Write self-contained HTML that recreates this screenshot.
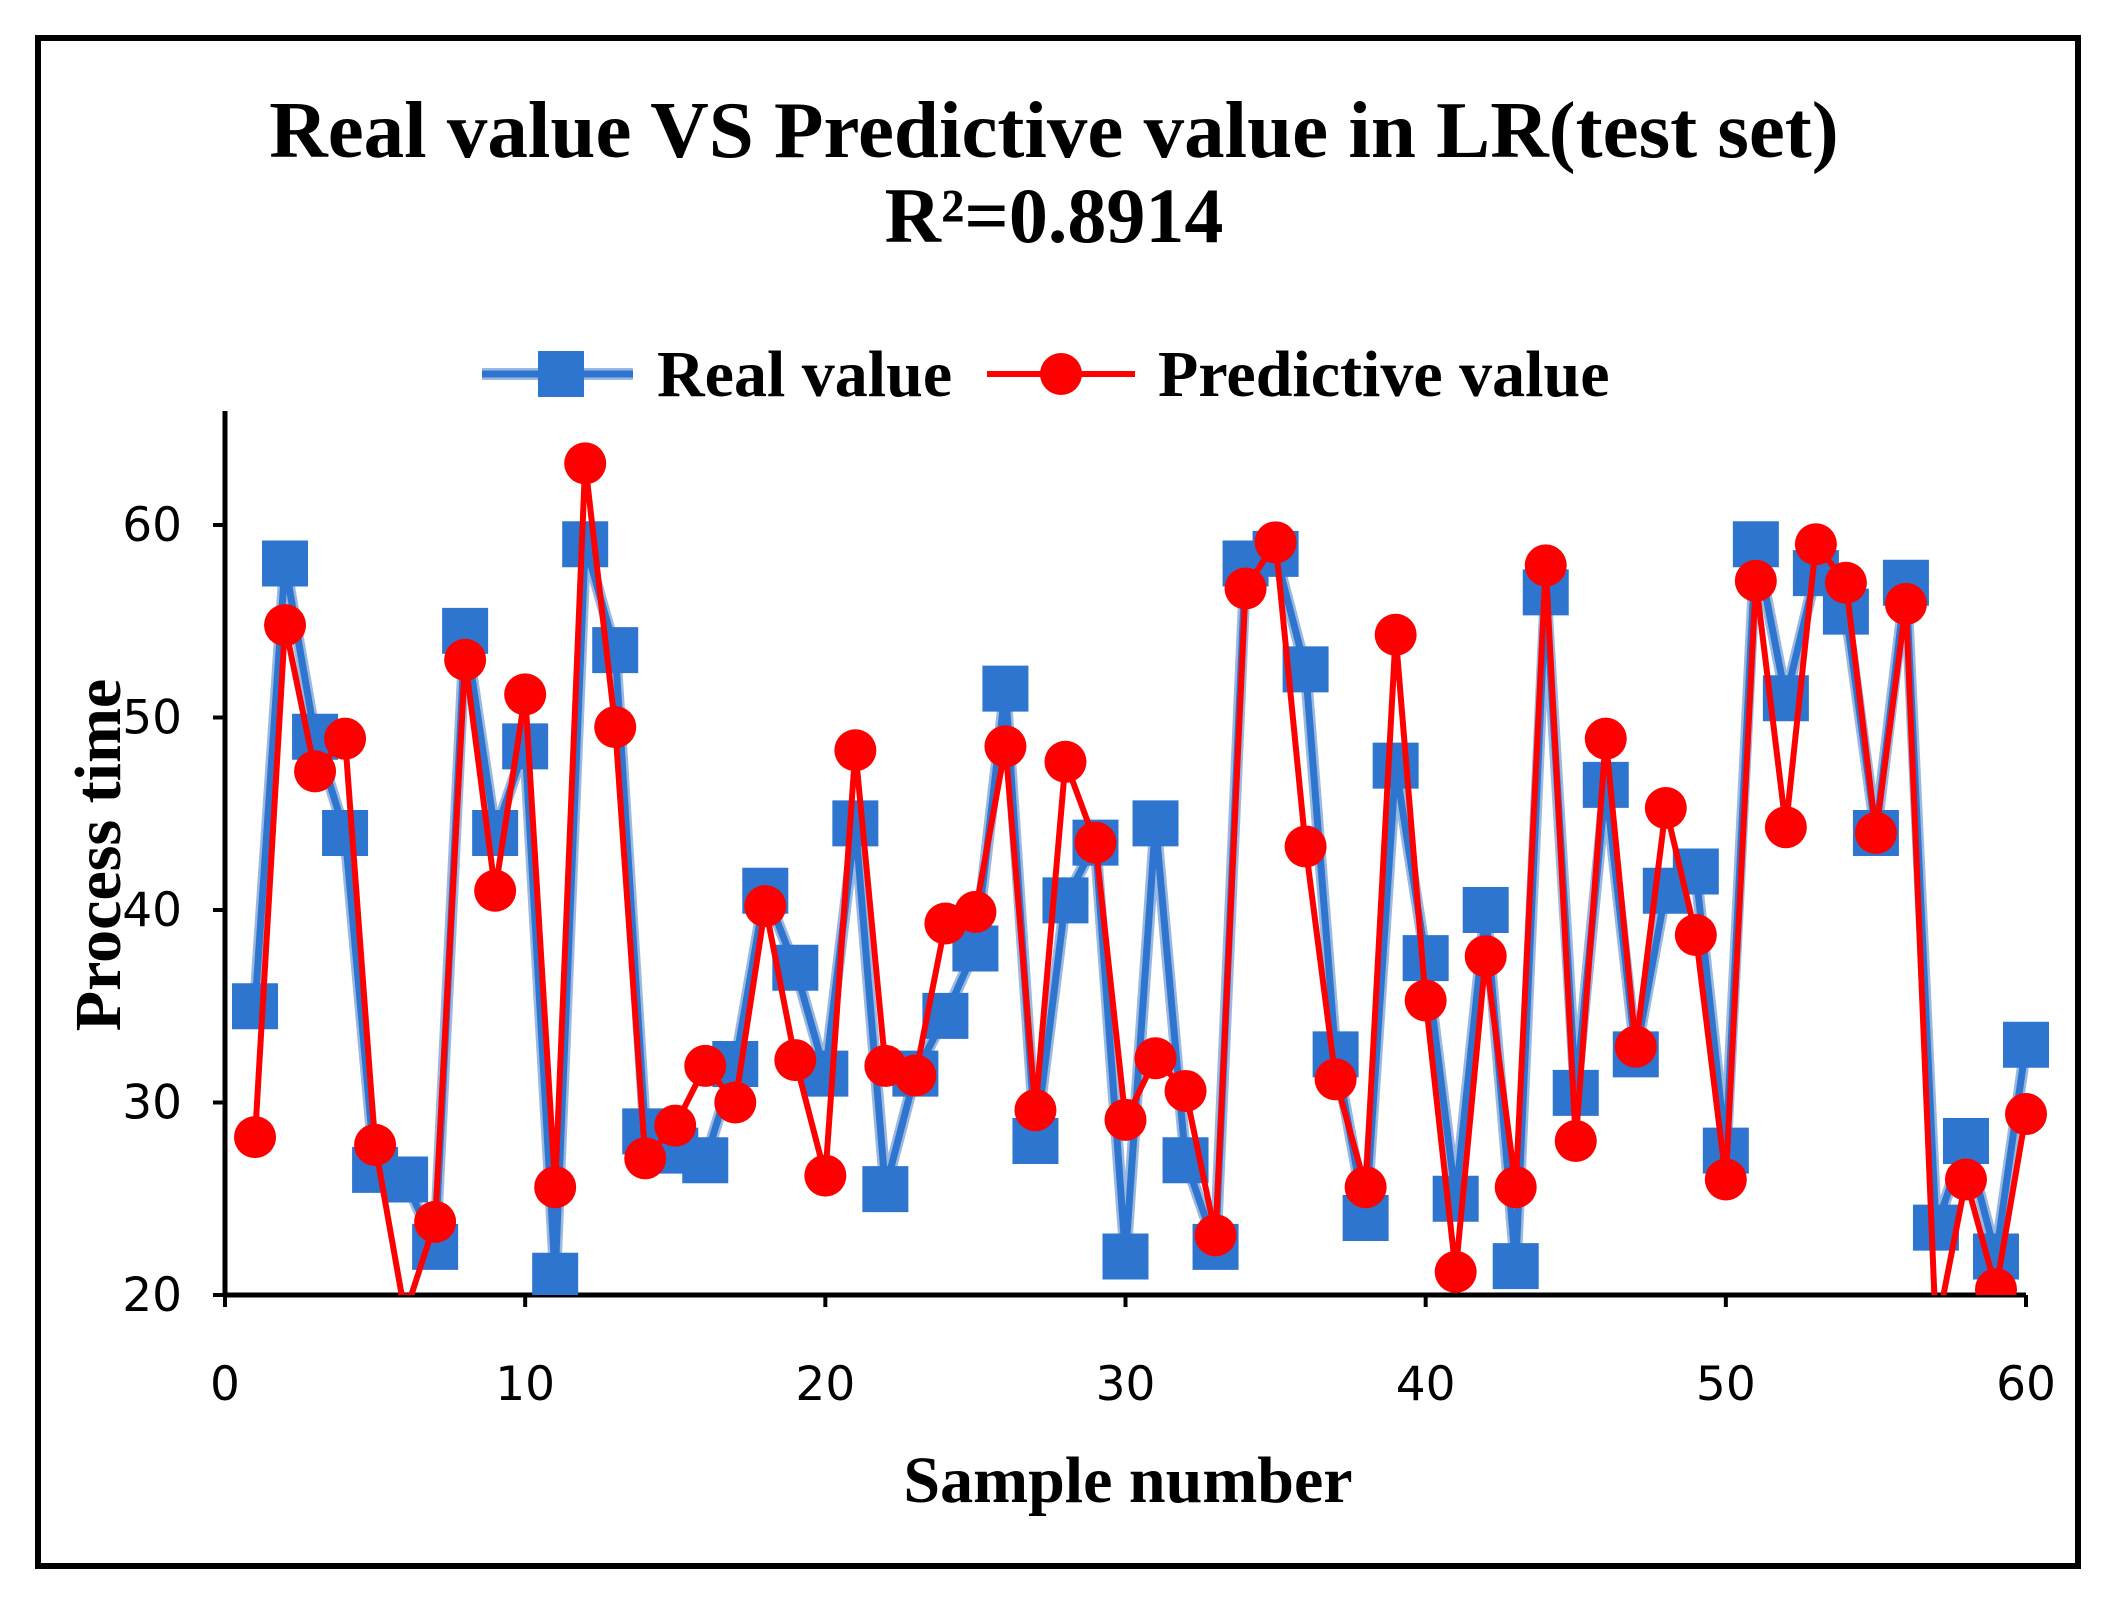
<!DOCTYPE html>
<html><head><meta charset="utf-8"><style>
html,body{margin:0;padding:0;background:#fff;}
svg{display:block;}
</style></head><body>
<svg id="chart" width="2111" height="1608" viewBox="0 0 2111 1608" xmlns="http://www.w3.org/2000/svg">
<rect x="38" y="38" width="2040" height="1528" fill="#fff" stroke="#000" stroke-width="6"/>
<text x="1054" y="157" text-anchor="middle" font-family="Liberation Serif, serif" font-weight="bold" font-size="81">Real value VS Predictive value in LR(test set)</text>
<text x="1054" y="242" text-anchor="middle" font-family="Liberation Serif, serif" font-weight="bold" font-size="78">R²=0.8914</text>
<g>
<g>
<line x1="482" y1="374" x2="633" y2="374" stroke="#9bb8e0" stroke-width="12"/>
<line x1="482" y1="374" x2="633" y2="374" stroke="#2e75cf" stroke-width="7"/>
<rect x="538" y="351" width="46" height="46" fill="#2e75cf"/>
<text x="657" y="396" font-family="Liberation Serif, serif" font-weight="bold" font-size="66">Real value</text>
</g>
<g>
<line x1="987" y1="374" x2="1135" y2="374" stroke="#ff0000" stroke-width="6"/>
<circle cx="1061" cy="374" r="21" fill="#ff0000"/>
<text x="1158" y="396" font-family="Liberation Serif, serif" font-weight="bold" font-size="66">Predictive value</text>
</g>
</g>
<g id="axes"></g>
<g id="series"></g>
<text transform="translate(120,855) rotate(-90)" text-anchor="middle" font-family="Liberation Serif, serif" font-weight="bold" font-size="66">Process time</text>
<text x="1128" y="1502" text-anchor="middle" font-family="Liberation Serif, serif" font-weight="bold" font-size="66">Sample number</text>
</svg>
<script>
const xTicks=[0,10,20,30,40,50,60];
const yTicks=[20,30,40,50,60];
const realValues=[35,58,49,44,26.5,26,22.5,54.5,44,48.5,21,59,53.5,28.5,27.5,27,32,41,37,31.5,44.5,25.5,31.5,34.5,38,51.5,28,40.5,43.5,22,44.5,27,22.5,58,58.5,52.5,32.5,24,47.5,37.5,25,40,21.5,56.5,30.5,46.5,32.5,41,42,27.5,59,51,57.5,55.5,44,57,23.5,28,22,33];
const predValues=[28.2,54.8,47.2,48.9,27.8,19,23.8,53,41,51.2,25.6,63.2,49.5,27.1,28.8,31.9,30,40.2,32.2,26.2,48.3,31.9,31.4,39.3,39.9,48.5,29.6,47.7,43.5,29.1,32.3,30.6,23.1,56.7,59.1,43.3,31.2,25.6,54.3,35.3,21.2,37.6,25.6,57.9,28,48.9,32.9,45.3,38.7,26,57.1,44.3,59,57,44,55.9,18,26,20.3,29.4];
const NS="http://www.w3.org/2000/svg";
const X0=225,X1=2026,Y20=1295,Y60=525;
function sx(v){return X0+(v-0)/60*(X1-X0);}
function sy(v){return Y20-(v-20)/40*(Y20-Y60);}
function mk(t,a,p){const e=document.createElementNS(NS,t);for(const k in a)e.setAttribute(k,a[k]);(p||document.getElementById('series')).appendChild(e);return e;}
const axes=document.getElementById('axes');
const svg=document.getElementById('chart');
const defs=mk('defs',{},svg);
const cp=mk('clipPath',{id:'clip'},defs);
mk('rect',{x:0,y:0,width:2111,height:Y20},cp);
let l=mk('line',{x1:X0,y1:411,x2:X0,y2:Y20,stroke:'#000','stroke-width':5},axes);


l=mk('line',{x1:X0,y1:Y20,x2:X1,y2:Y20,stroke:'#000','stroke-width':5},axes);


xTicks.forEach(v=>{
 const t=mk('line',{x1:sx(v),y1:Y20,x2:sx(v),y2:Y20+12,stroke:'#000','stroke-width':4},axes);
 
 
 const tx=mk('text',{x:sx(v),y:1400,'text-anchor':'middle','font-family':'DejaVu Sans, sans-serif','font-size':47},axes);
 tx.textContent=v;
 
 
});
yTicks.forEach(v=>{
 const t=mk('line',{x1:X0-12,y1:sy(v),x2:X0,y2:sy(v),stroke:'#000','stroke-width':4},axes);
 
 
 const tx=mk('text',{x:182,y:sy(v)+16,'text-anchor':'end','font-family':'DejaVu Sans, sans-serif','font-size':47},axes);
 tx.textContent=v;
 
 
});
const g=mk('g',{'clip-path':'url(#clip)'});


const rp=realValues.map((v,i)=>sx(i+1)+','+sy(v)).join(' ');
const pp=predValues.map((v,i)=>sx(i+1)+','+sy(v)).join(' ');
let pl=mk('polyline',{points:rp,fill:'none',stroke:'#9bb8e0','stroke-width':12,'stroke-linejoin':'round'},g);


pl=mk('polyline',{points:rp,fill:'none',stroke:'#2e75cf','stroke-width':7,'stroke-linejoin':'round'},g);


realValues.forEach((v,i)=>{
 const r=mk('rect',{x:sx(i+1)-23,y:sy(v)-23,width:46,height:46,fill:'#2e75cf'},g);
 
 
});
pl=mk('polyline',{points:pp,fill:'none',stroke:'#ff0000','stroke-width':6,'stroke-linejoin':'round'},g);


predValues.forEach((v,i)=>{
 const c=mk('circle',{cx:sx(i+1),cy:sy(v),r:21,fill:'#ff0000'},g);
 
 
});
</script>
</body></html>
